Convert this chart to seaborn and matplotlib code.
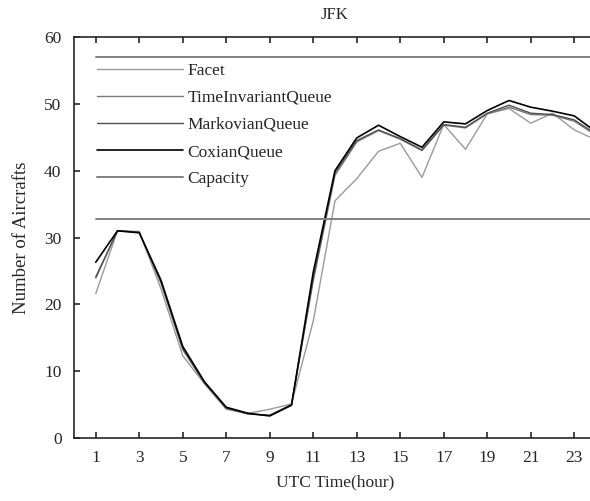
import matplotlib
matplotlib.use("Agg")
import matplotlib.pyplot as plt
import seaborn as sns
import pandas as pd
import numpy as np

hours = list(range(1, 25))
facet = [21.6, 31.0, 30.9, 22.3, 12.3, 8.1, 4.3, 3.7, 4.3, 5.1, 17.5, 35.5,
         38.8, 42.9, 44.1, 39.0, 46.9, 43.2, 48.5, 49.3, 47.1, 48.6, 46.1, 44.6]
time_invariant = [23.9, 31.0, 30.8, 23.2, 13.2, 8.2, 4.4, 3.6, 3.4, 5.0, 23.5, 39.3,
                  44.3, 46.0, 44.7, 43.0, 46.8, 46.4, 48.5, 49.5, 48.4, 48.3, 47.4, 45.3]
markovian = [24.1, 31.0, 30.8, 23.3, 13.4, 8.3, 4.5, 3.6, 3.4, 5.0, 24.0, 39.7,
             44.5, 46.1, 44.8, 43.1, 46.9, 46.5, 48.6, 49.8, 48.6, 48.4, 47.6, 45.5]
coxian = [26.3, 31.0, 30.7, 23.6, 13.7, 8.4, 4.6, 3.7, 3.3, 4.9, 24.8, 40.0,
          44.9, 46.8, 45.1, 43.5, 47.3, 47.0, 49.0, 50.5, 49.5, 48.9, 48.2, 45.8]
capacity_levels = [57.0, 32.7]

x_ticks = list(range(1, 24, 2))
y_ticks = list(range(0, 61, 10))

sns.set_style("ticks")
plt.rcParams['font.family'] = ['Liberation Serif', 'DejaVu Serif']
plt.rcParams['xtick.direction'] = 'in'
plt.rcParams['ytick.direction'] = 'in'

fig = plt.figure(figsize=(5.9, 5.01), dpi=100)
ax = fig.add_axes([74 / 590, 63 / 501, 522 / 590, 401 / 501])

series = [
    ("Facet", facet, "#9a9a9a", 1.0),
    ("TimeInvariantQueue", time_invariant, "#7a7a7a", 1.0),
    ("MarkovianQueue", markovian, "#505050", 1.0),
    ("CoxianQueue", coxian, "#000000", 1.2),
]
for name, vals, col, lw in series:
    df = pd.DataFrame({"hour": hours, "value": vals})
    sns.lineplot(data=df, x="hour", y="value", ax=ax, color=col, linewidth=lw, label=name)

for i, lev in enumerate(capacity_levels):
    dfc = pd.DataFrame({"hour": hours, "value": [lev] * len(hours)})
    sns.lineplot(data=dfc, x="hour", y="value", ax=ax, color="#808080", linewidth=1.4,
                 label="Capacity" if i == 0 else None)

ax.set_xlim(0, 24)
ax.set_ylim(0, 60)
ax.set_xticks(x_ticks)
ax.set_yticks(y_ticks)
ax.tick_params(axis='both', labelsize=12.5, length=4, width=1.2, top=True, right=True, pad=9)
for s in ax.spines.values():
    s.set_linewidth(1.2)

ax.set_title("JFK", fontsize=12, pad=13)
ax.set_xlabel("UTC Time(hour)", fontsize=12.5, labelpad=6)
ax.set_ylabel("Number of Aircrafts", fontsize=13.5, labelpad=10)

leg = ax.legend(loc="upper left", bbox_to_anchor=(0.044, 0.936), frameon=False, fontsize=12.5,
                handlelength=4.95, handletextpad=0.25, labelspacing=0.63, borderpad=0,
                borderaxespad=0)

fig.savefig("out.png", dpi=100)
